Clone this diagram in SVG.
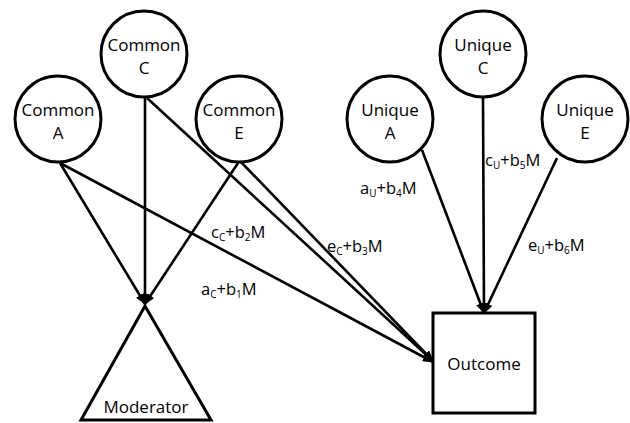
<svg xmlns="http://www.w3.org/2000/svg" width="630" height="423" viewBox="0 0 630 423">
<style>
.node{fill:#fff;stroke:#000;stroke-width:3}
.t{font-family:"Open Sans","Noto Sans",sans-serif;font-size:17px;fill:#000;text-anchor:middle}
.l{font-family:"Open Sans","Noto Sans",sans-serif;font-size:16.5px;fill:#000}
.s{font-size:10px}
.e{stroke:#000;stroke-width:2.6;fill:none;marker-end:url(#ah)}
</style>
<defs>
<marker id="ah" markerUnits="userSpaceOnUse" markerWidth="11" markerHeight="9" refX="10" refY="4.5" orient="auto">
<path d="M0,0 L11,4.5 L0,9 Z" fill="#000"/>
</marker>
</defs>
<rect width="630" height="423" fill="#fff"/>
<g id="connectors">
<line class="e" x1="145" y1="97" x2="145" y2="304"/>
<line class="e" x1="60" y1="163" x2="145" y2="304"/>
<line class="e" x1="238" y1="163" x2="145" y2="304"/>
<line class="e" x1="147" y1="98" x2="433" y2="361"/>
<line class="e" x1="60" y1="163" x2="433" y2="362"/>
<line class="e" x1="241" y1="162" x2="433" y2="361"/>
<line class="e" x1="422" y1="150" x2="484" y2="313"/>
<line class="e" x1="483" y1="98" x2="484" y2="313"/>
<line class="e" x1="557" y1="158" x2="484" y2="313"/>
</g>
<g id="commonC"><circle class="node" cx="144" cy="54" r="43"/><text class="t" x="144" y="51">Common</text><text class="t" x="144" y="74">C</text></g>
<g id="commonA"><circle class="node" cx="58" cy="119" r="43"/><text class="t" x="58" y="116">Common</text><text class="t" x="58" y="139">A</text></g>
<g id="commonE"><circle class="node" cx="239" cy="119" r="43"/><text class="t" x="239" y="116">Common</text><text class="t" x="239" y="139">E</text></g>
<g id="uniqueC"><circle class="node" cx="483" cy="54" r="43"/><text class="t" x="483" y="51">Unique</text><text class="t" x="483" y="74">C</text></g>
<g id="uniqueA"><circle class="node" cx="390" cy="119" r="43"/><text class="t" x="390" y="116">Unique</text><text class="t" x="390" y="139">A</text></g>
<g id="uniqueE"><circle class="node" cx="585" cy="119" r="43"/><text class="t" x="585" y="116">Unique</text><text class="t" x="585" y="139">E</text></g>
<g id="moderator"><polygon class="node" points="145,306 81,420 211,420"/><text class="t" x="146" y="413">Moderator</text></g>
<g id="outcome"><rect class="node" x="433" y="313" width="102" height="100"/><text class="t" x="484" y="370">Outcome</text></g>
<g id="labels">
<text class="l" x="211" y="238">c<tspan class="s" dy="3">C</tspan><tspan dy="-3">+b</tspan><tspan class="s" dy="3">2</tspan><tspan dy="-3">M</tspan></text>
<text class="l" x="201" y="295">a<tspan class="s" dy="3">C</tspan><tspan dy="-3">+b</tspan><tspan class="s" dy="3">1</tspan><tspan dy="-3">M</tspan></text>
<text class="l" x="327" y="252">e<tspan class="s" dy="3">C</tspan><tspan dy="-3">+b</tspan><tspan class="s" dy="3">3</tspan><tspan dy="-3">M</tspan></text>
<text class="l" x="360" y="194">a<tspan class="s" dy="3">U</tspan><tspan dy="-3">+b</tspan><tspan class="s" dy="3">4</tspan><tspan dy="-3">M</tspan></text>
<text class="l" x="485" y="166">c<tspan class="s" dy="3">U</tspan><tspan dy="-3">+b</tspan><tspan class="s" dy="3">5</tspan><tspan dy="-3">M</tspan></text>
<text class="l" x="528" y="251">e<tspan class="s" dy="3">U</tspan><tspan dy="-3">+b</tspan><tspan class="s" dy="3">6</tspan><tspan dy="-3">M</tspan></text>
</g>
</svg>
